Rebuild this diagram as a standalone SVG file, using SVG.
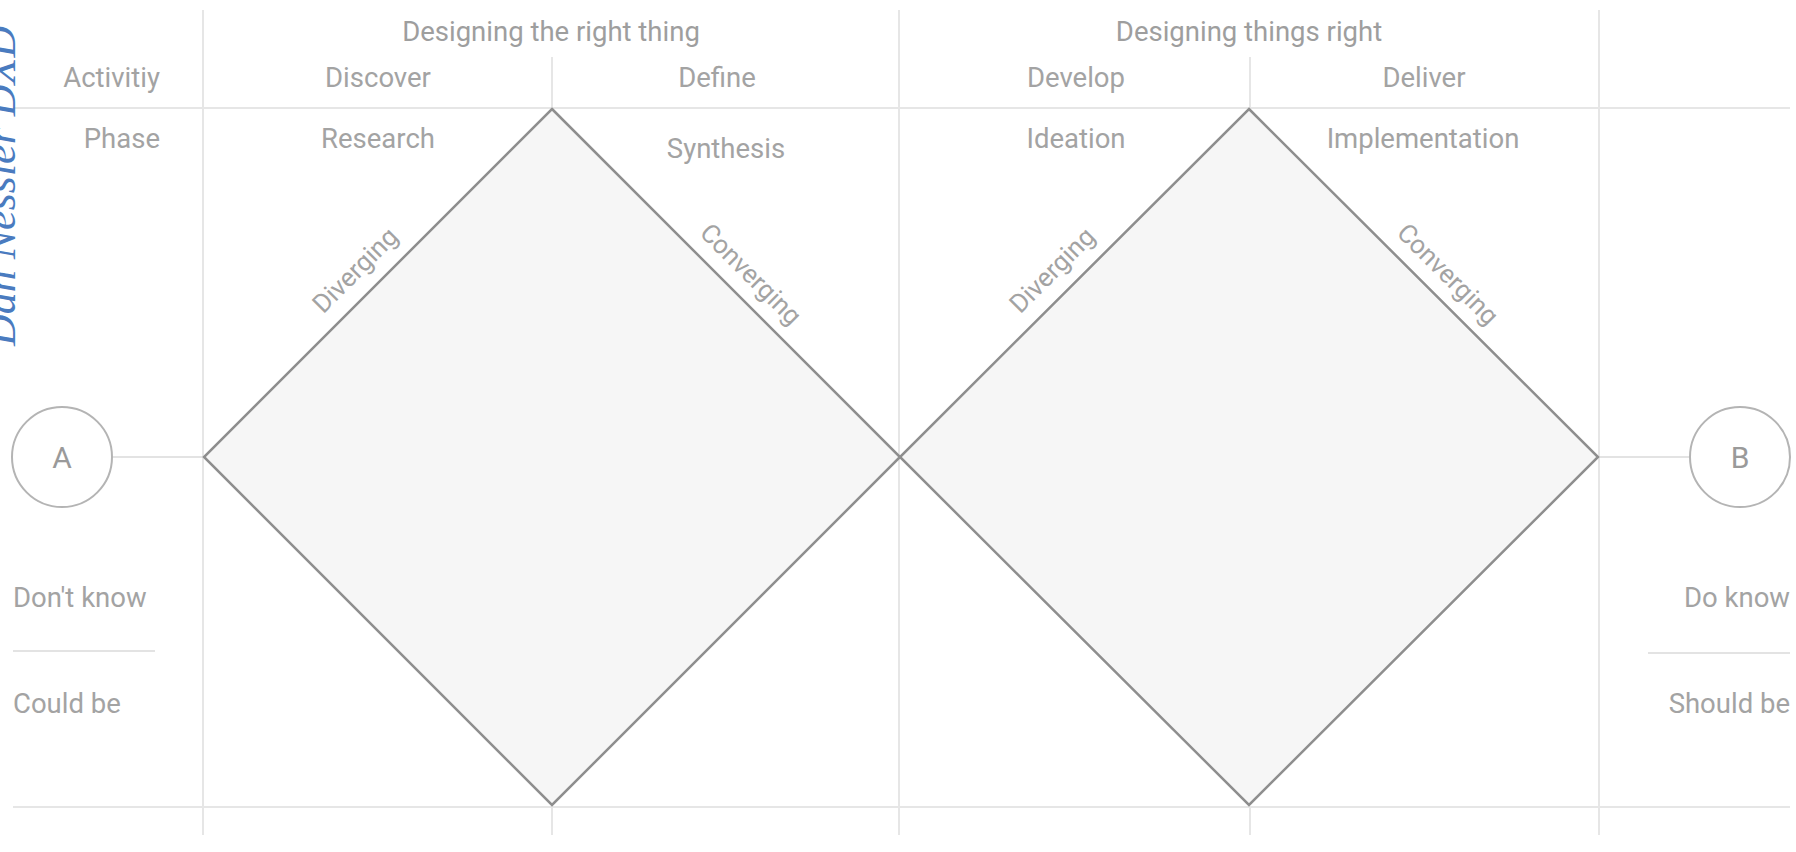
<svg xmlns="http://www.w3.org/2000/svg" width="1796" height="852" viewBox="0 0 1796 852">
  <style>
    .lbl { font-family: Roboto, "Liberation Sans", sans-serif; font-size: 27.5px; fill: #a3a3a3; }
    .hdr { font-family: Roboto, "Liberation Sans", sans-serif; font-size: 27.5px; fill: #9e9e9e; }
    .mid { text-anchor: middle; }
    .end { text-anchor: end; }
    .grid { stroke: #e6e6e6; stroke-width: 2; fill: none; }
    .sep { stroke: #e3e3e3; stroke-width: 2; }
    .diamond { fill: #f6f6f6; stroke: #8e8e8e; stroke-width: 2.5; stroke-linejoin: miter; }
    .circle { fill: #ffffff; stroke: #b4b4b4; stroke-width: 2; }
    .circ-txt { font-family: Roboto, "Liberation Sans", sans-serif; font-size: 30px; fill: #9a9a9a; text-anchor: middle; }
    .edge { font-family: Roboto, "Liberation Sans", sans-serif; font-size: 26px; fill: #a3a3a3; text-anchor: middle; dominant-baseline: central; }
    .conn { stroke: #e3e3e3; stroke-width: 2; }
  </style>

  <rect x="0" y="0" width="1796" height="852" fill="#ffffff"/>

  <!-- grid -->
  <g id="grid">
    <line class="grid" x1="13" y1="108" x2="1790" y2="108"/>
    <line class="grid" x1="13" y1="807" x2="1790" y2="807"/>
    <line class="grid" x1="203" y1="10" x2="203" y2="835"/>
    <line class="grid" x1="899" y1="10" x2="899" y2="835"/>
    <line class="grid" x1="1599" y1="10" x2="1599" y2="835"/>
    <line class="grid" x1="552" y1="57" x2="552" y2="108"/>
    <line class="grid" x1="552" y1="807" x2="552" y2="835"/>
    <line class="grid" x1="1250" y1="57" x2="1250" y2="108"/>
    <line class="grid" x1="1250" y1="807" x2="1250" y2="835"/>
    <line class="sep" x1="13" y1="651" x2="155" y2="651"/>
    <line class="sep" x1="1648" y1="653" x2="1790" y2="653" stroke="#d6d6d6"/>
  </g>

  <!-- connectors -->
  <g id="connectors">
    <line class="conn" x1="112" y1="457" x2="203" y2="457"/>
    <line class="conn" x1="1599" y1="457" x2="1690" y2="457"/>
  </g>

  <!-- header texts -->
  <g id="headers">
    <text class="hdr mid" x="551" y="41">Designing the right thing</text>
    <text class="hdr mid" x="1249" y="41">Designing things right</text>
    <text class="lbl end" x="160" y="87">Activitiy</text>
    <text class="lbl end" x="160" y="148">Phase</text>
    <text class="lbl mid" x="378" y="87">Discover</text>
    <text class="lbl mid" x="378" y="148">Research</text>
    <text class="lbl mid" x="717" y="87">Define</text>
    <text class="lbl mid" x="726" y="158">Synthesis</text>
    <text class="lbl mid" x="1076" y="87">Develop</text>
    <text class="lbl mid" x="1076" y="148">Ideation</text>
    <text class="lbl mid" x="1424" y="87">Deliver</text>
    <text class="lbl mid" x="1423" y="148">Implementation</text>
  </g>

  <!-- diamond 1 -->
  <g id="diamond-define">
    <polygon class="diamond" points="552,109 900,457 552,805 204,457"/>
    <text class="edge" transform="translate(355,270) rotate(-45)">Diverging</text>
    <text class="edge" transform="translate(751,274) rotate(45)">Converging</text>
  </g>

  <!-- diamond 2 -->
  <g id="diamond-deliver">
    <polygon class="diamond" points="1249,109 1598,457 1249,805 900,457"/>
    <text class="edge" transform="translate(1052,270) rotate(-45)">Diverging</text>
    <text class="edge" transform="translate(1448,274) rotate(45)">Converging</text>
  </g>

  <!-- start A -->
  <g id="node-a">
    <circle class="circle" cx="62" cy="457" r="50"/>
    <text class="circ-txt" x="62" y="468">A</text>
  </g>

  <!-- end B -->
  <g id="node-b">
    <circle class="circle" cx="1740" cy="457" r="50"/>
    <text class="circ-txt" x="1740" y="468">B</text>
  </g>

  <!-- left labels -->
  <g id="left-labels">
    <text class="lbl" x="13" y="607">Don't know</text>
    <text class="lbl" x="13" y="713">Could be</text>
  </g>

  <!-- right labels -->
  <g id="right-labels">
    <text class="lbl end" x="1790" y="607">Do know</text>
    <text class="lbl end" x="1790" y="713">Should be</text>
  </g>

  <!-- watermark -->
  <text x="0" y="0" transform="translate(15,346) rotate(-90)" font-family="'Liberation Serif', serif" font-style="italic" font-size="44" fill="#4a7bbf">Dan Nessler DXD</text>
</svg>
